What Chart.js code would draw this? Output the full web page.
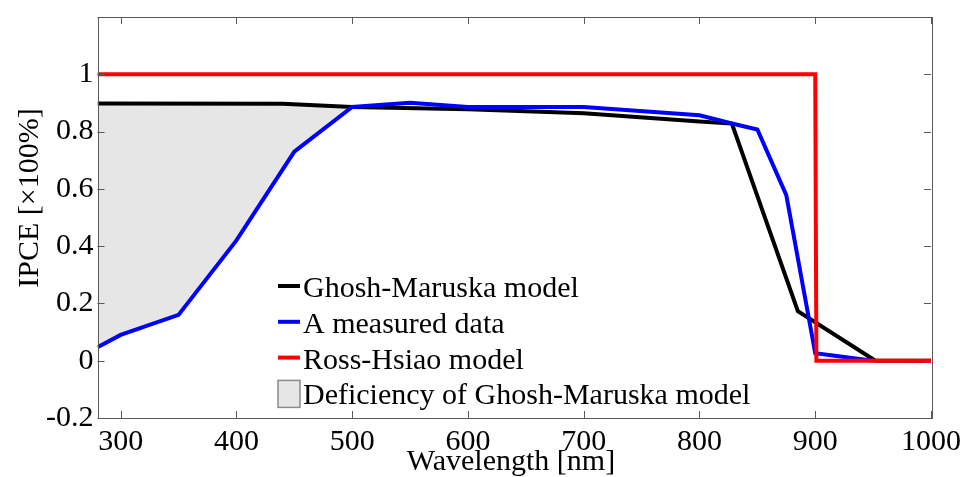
<!DOCTYPE html>
<html>
<head>
<meta charset="utf-8">
<title>IPCE vs wavelength</title>
<script src="https://cdn.jsdelivr.net/npm/chart.js@4.4.0/dist/chart.umd.min.js"></script>
<style>
  html, body { margin: 0; padding: 0; background: #fff; }
  #wrap { width: 962px; height: 477px; position: relative; }
</style>
</head>
<body>
<div id="wrap"><canvas id="ipceChart"></canvas></div>
<script>
// axis ticks
const wavelengthTicks = [300, 400, 500, 600, 700, 800, 900, 1000];
const ipceTicks = [-0.2, 0, 0.2, 0.4, 0.6, 0.8, 1, 1.2];

// Ghosh-Maruska model
const ghoshX = [280, 440, 500, 600, 700, 800, 828, 885, 952, 1000];
const ghoshY = [0.898, 0.897, 0.886, 0.878, 0.864, 0.835, 0.828, 0.173, 0, 0];

// measured IPCE
const measuredX = [280, 300, 350, 400, 450, 500, 550, 600, 700, 800, 828, 850, 875, 900, 950];
const measuredY = [0.047, 0.09, 0.16, 0.42, 0.73, 0.886, 0.901, 0.886, 0.886, 0.857, 0.828, 0.807, 0.578, 0.026, 0];

// Ross-Hsiao model (step at bandgap)
const rossX = [280, 900, 901, 1000];
const rossY = [1, 1, 0, 0];

// region where the Ghosh-Maruska curve sits above the measurement
const deficiencyX = [280, 440, 500];
const deficiencyY = [0.898, 0.897, 0.886];

const FONT = '"Liberation Serif", "Times New Roman", serif';

function toPoints(xs, ys) {
  return xs.map((x, i) => ({ x: x, y: ys[i] }));
}

// box around the plot + inward tick marks on all four sides
const axesBox = {
  id: 'axesBox',
  afterDatasetsDraw(chart) {
    const { ctx, chartArea: a, scales } = chart;
    const len = 7;
    ctx.save();
    ctx.strokeStyle = '#5a5a5a';
    ctx.lineWidth = 1;
    ctx.beginPath();
    wavelengthTicks.forEach(v => {
      const px = Math.round(scales.x.getPixelForValue(v)) + 0.5;
      ctx.moveTo(px, a.bottom); ctx.lineTo(px, a.bottom - len);
      ctx.moveTo(px, a.top); ctx.lineTo(px, a.top + len);
    });
    ipceTicks.forEach(v => {
      const py = Math.round(scales.y.getPixelForValue(v)) + 0.5;
      ctx.moveTo(a.left, py); ctx.lineTo(a.left + len, py);
      ctx.moveTo(a.right, py); ctx.lineTo(a.right - len, py);
    });
    ctx.stroke();
    ctx.strokeRect(Math.round(a.left) + 0.5, Math.round(a.top) + 0.5,
                   Math.round(a.right - a.left), Math.round(a.bottom - a.top));
    ctx.restore();
  }
};

// legend inside the plot, lower middle
const innerLegend = {
  id: 'innerLegend',
  afterDatasetsDraw(chart) {
    const ctx = chart.ctx;
    const x0 = 278, x1 = 300, top = 286, step = 35.8;
    ctx.save();
    ctx.font = '30px ' + FONT;
    ctx.fillStyle = '#000';
    ctx.textBaseline = 'alphabetic';
    chart.data.datasets.forEach((ds, i) => {
      const cy = top + i * step;
      if (ds.legendBox) {
        ctx.fillStyle = ds.legendBox;
        ctx.fillRect(x0, cy - 13, x1 - x0, 27);
        ctx.strokeStyle = '#8a8a8a';
        ctx.lineWidth = 1.5;
        ctx.strokeRect(x0, cy - 13, x1 - x0, 27);
      } else {
        ctx.strokeStyle = ds.borderColor;
        ctx.lineWidth = 4;
        ctx.beginPath();
        ctx.moveTo(x0, cy); ctx.lineTo(x1, cy);
        ctx.stroke();
      }
      ctx.fillStyle = '#000';
      ctx.fillText(ds.label, x1 + 3, cy + 11);
    });
    ctx.restore();
  }
};

// axis titles
const axisTitles = {
  id: 'axisTitles',
  afterDraw(chart) {
    const ctx = chart.ctx;
    ctx.save();
    ctx.font = '30px ' + FONT;
    ctx.fillStyle = '#000';
    ctx.textAlign = 'center';
    ctx.textBaseline = 'alphabetic';
    ctx.fillText('Wavelength [nm]', 511, 470);
    ctx.translate(38, 198);
    ctx.rotate(-Math.PI / 2);
    ctx.fillText('IPCE [\u00d7100%]', 0, 0);
    ctx.restore();
  }
};

const ctx = document.getElementById('ipceChart').getContext('2d');

new Chart(ctx, {
  type: 'scatter',
  data: {
    datasets: [
      {
        label: 'Ghosh-Maruska model',
        data: toPoints(ghoshX, ghoshY),
        borderColor: '#000000',
        borderWidth: 4,
        showLine: true,
        pointRadius: 0,
        order: 2
      },
      {
        label: 'A measured data',
        data: toPoints(measuredX, measuredY),
        borderColor: '#0000ff',
        borderWidth: 4,
        showLine: true,
        pointRadius: 0,
        order: 1
      },
      {
        label: 'Ross-Hsiao model',
        data: toPoints(rossX, rossY),
        borderColor: '#ff0000',
        borderWidth: 4,
        showLine: true,
        pointRadius: 0,
        order: 0
      },
      {
        label: 'Deficiency of Ghosh-Maruska model',
        data: toPoints(deficiencyX, deficiencyY),
        borderColor: 'rgba(0,0,0,0)',
        borderWidth: 0,
        showLine: true,
        pointRadius: 0,
        legendBox: '#e6e6e6',
        fill: { target: 1, above: '#e6e6e6', below: 'rgba(0,0,0,0)' },
        order: 3
      }
    ]
  },
  options: {
    responsive: true,
    maintainAspectRatio: false,
    animation: false,
    layout: { padding: { top: 17, right: 31, left: 0, bottom: 0 } },
    plugins: {
      legend: { display: false },
      tooltip: { enabled: false },
      filler: { propagate: false }
    },
    scales: {
      x: {
        type: 'linear',
        min: 280,
        max: 1000,
        afterBuildTicks: s => { s.ticks = wavelengthTicks.map(v => ({ value: v })); },
        afterFit: s => { s.height = 59; s.paddingLeft = 0; s.paddingRight = 0; },
        grid: { display: false, drawTicks: false },
        border: { display: false },
        ticks: {
          color: '#000',
          padding: 6,
          maxRotation: 0,
          font: { family: FONT, size: 30 },
          callback: v => String(v)
        }
      },
      y: {
        type: 'linear',
        min: -0.2,
        max: 1.2,
        afterBuildTicks: s => { s.ticks = ipceTicks.map(v => ({ value: v })); },
        afterFit: s => { s.width = 97.5; s.paddingTop = 0; s.paddingBottom = 0; },
        grid: { display: false, drawTicks: false },
        border: { display: false },
        ticks: {
          color: '#000',
          padding: 4,
          font: { family: FONT, size: 30 },
          callback: v => {
            const r = Math.round(v * 10) / 10;
            if (r > 1.1) return '';
            return String(r);
          }
        }
      }
    }
  },
  plugins: [axesBox, innerLegend, axisTitles]
});
</script>
</body>
</html>
